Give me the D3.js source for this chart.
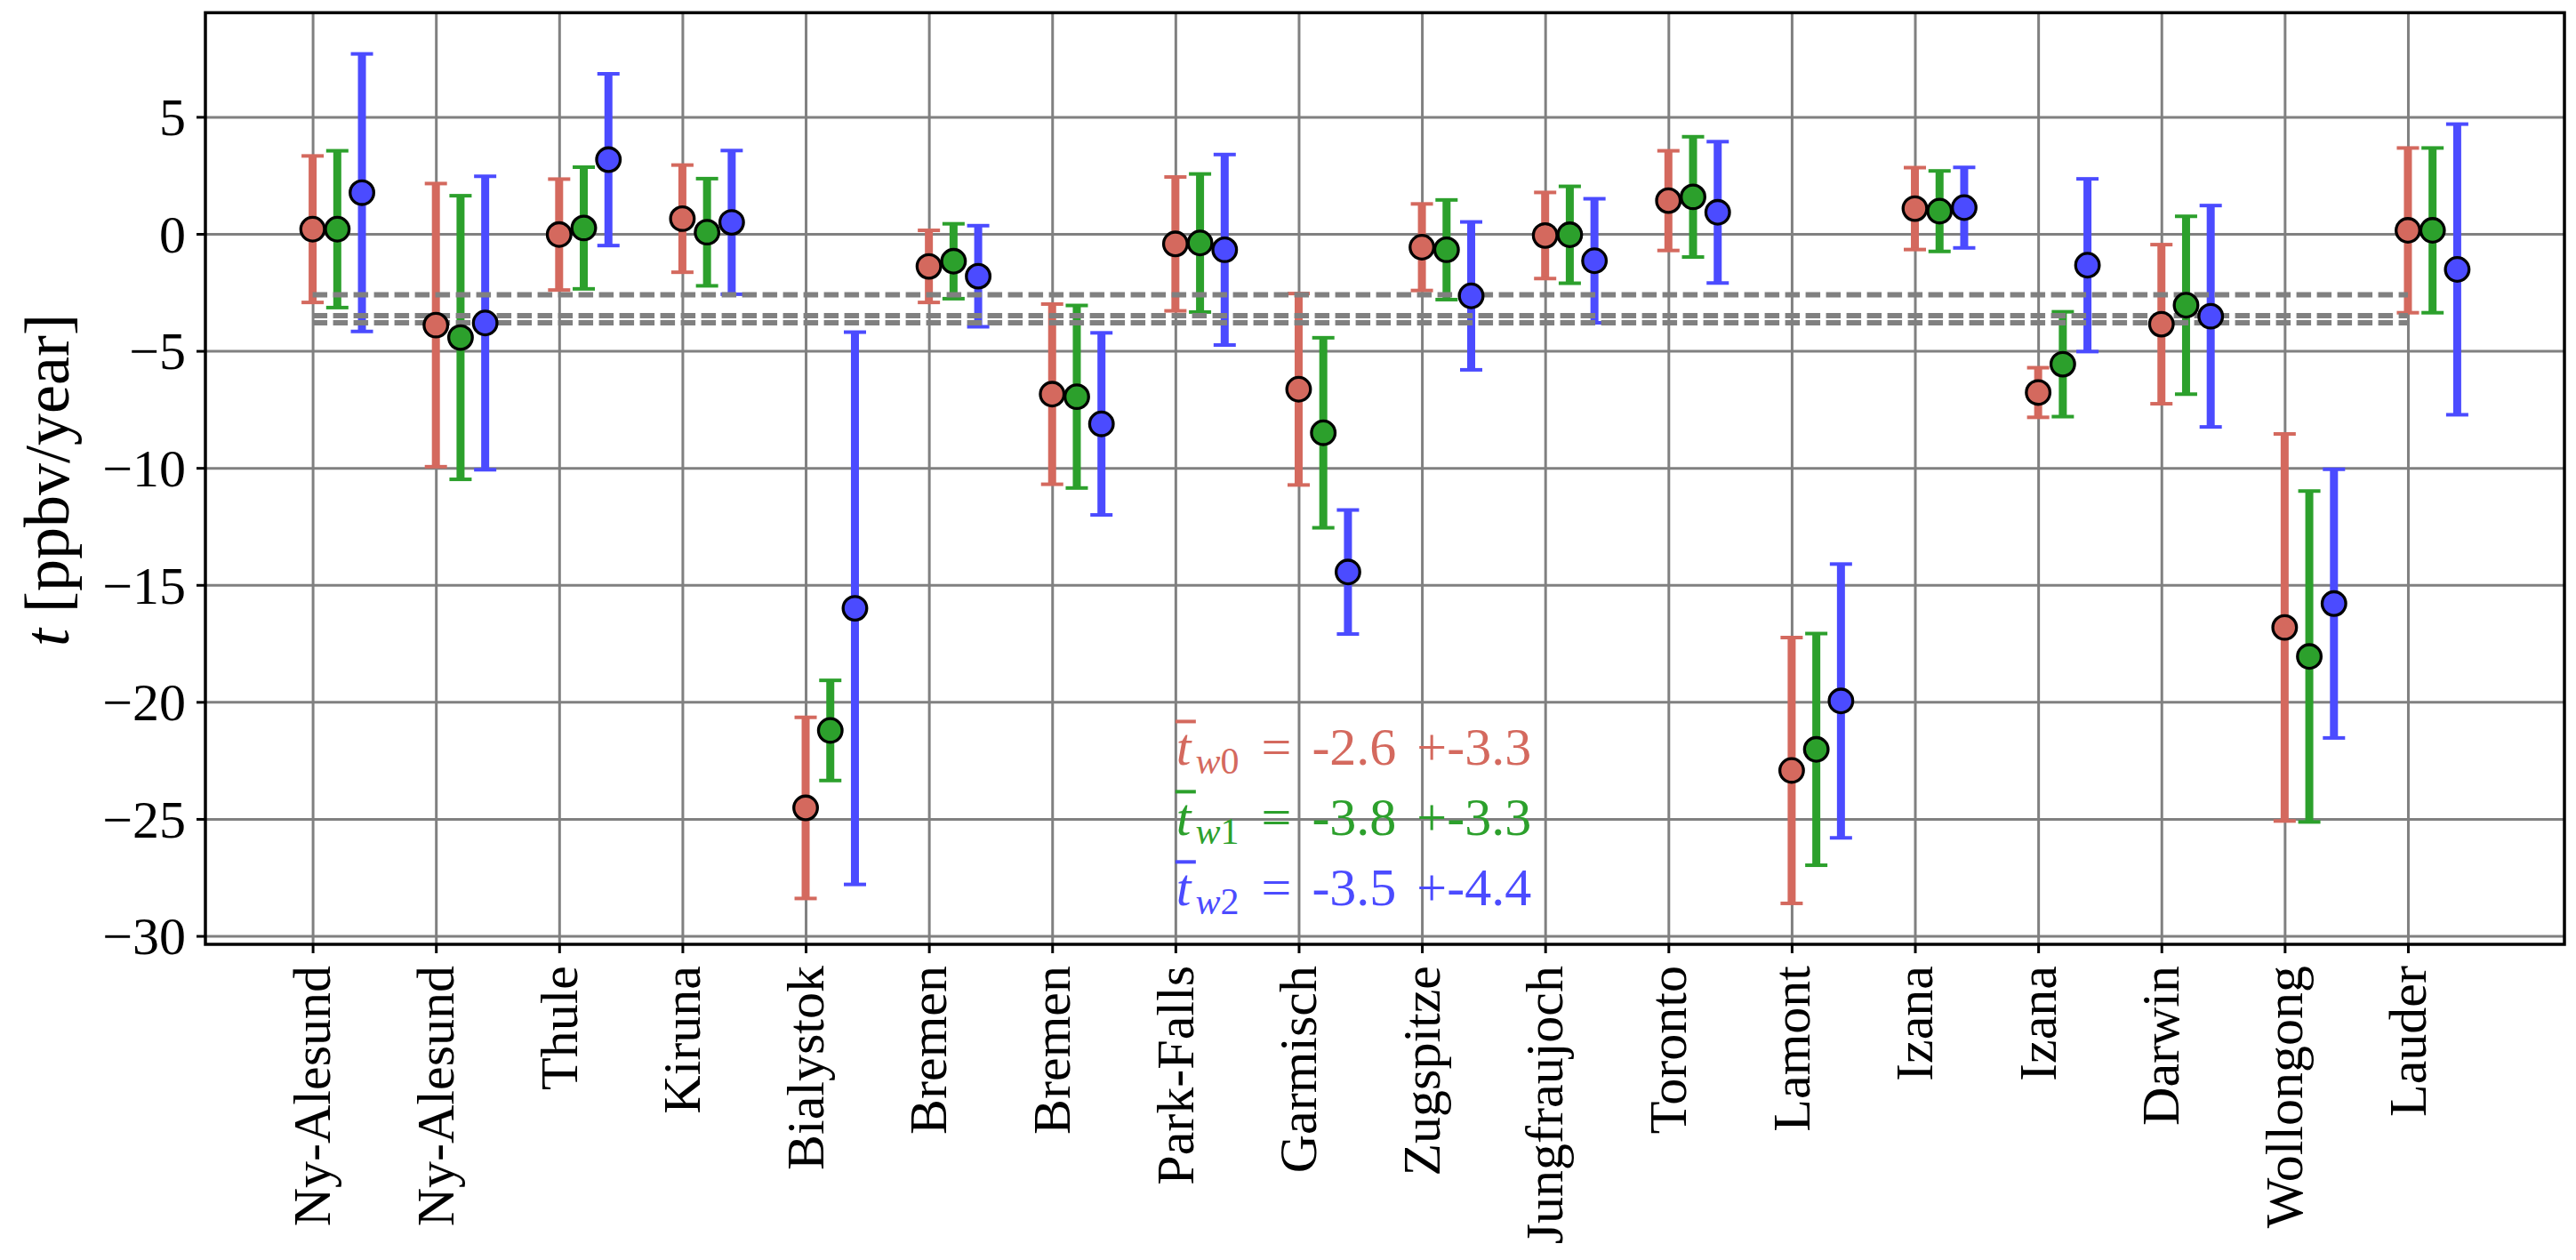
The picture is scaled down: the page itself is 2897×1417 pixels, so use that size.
<!DOCTYPE html>
<html><head><meta charset="utf-8">
<script src="https://cdn.jsdelivr.net/npm/d3@7"></script>
<style>
body{margin:0;background:#fff;}
svg{display:block;}
text{font-family:"Liberation Serif","DejaVu Serif",serif;}
</style>
</head><body>
<svg id="chart" width="2897" height="1417"></svg>
<script>
// ---------------- data ----------------
const stations = ["Ny-Alesund","Ny-Alesund","Thule","Kiruna","Bialystok","Bremen","Bremen","Park-Falls","Garmisch","Zugspitze","Jungfraujoch","Toronto","Lamont","Izana","Izana","Darwin","Wollongong","Lauder"];

const trendW0 = [0.2, -3.9, -0.03, 0.65, -24.53, -1.39, -6.85, -0.43, -6.64, -0.57, -0.07, 1.42, -22.93, 1.08, -6.78, -3.86, -16.82, 0.15];
const errW0   = [3.13, 6.05, 2.37, 2.29, 3.87, 1.54, 3.85, 2.86, 4.09, 1.85, 1.84, 2.13, 5.68, 1.75, 1.06, 3.40, 8.27, 3.52];

const trendW1 = [0.2, -4.43, 0.25, 0.07, -21.22, -1.17, -6.96, -0.39, -8.5, -0.68, -0.04, 1.58, -22.03, 0.97, -5.57, -3.05, -18.06, 0.15];
const errW1   = [3.35, 6.06, 2.60, 2.29, 2.14, 1.60, 3.90, 2.95, 4.06, 2.13, 2.07, 2.57, 4.95, 1.72, 2.24, 3.80, 7.07, 3.52];

const trendW2 = [1.76, -3.81, 3.17, 0.49, -16.0, -1.81, -8.12, -0.68, -14.45, -2.65, -1.15, 0.92, -19.96, 1.12, -1.34, -3.52, -15.8, -1.52];
const errW2   = [5.93, 6.27, 3.67, 3.07, 11.8, 2.16, 3.89, 4.07, 2.65, 3.16, 2.65, 3.02, 5.85, 1.72, 3.69, 4.73, 5.74, 6.21];

const meanTrends = [-2.6, -3.8, -3.5];
const meanErrors = [3.3, 3.3, 4.4];
const seriesSub = ["0", "1", "2"];
const yTicks = [-30, -25, -20, -15, -10, -5, 0, 5];

// ---------------- style / layout ----------------
const seriesColors = ["#d4695e", "#2ca02c", "#4b4bff"];
const seriesOffsets = [0, 0.2, 0.4];
const series = [
  {vals: trendW0, errs: errW0},
  {vals: trendW1, errs: errW1},
  {vals: trendW2, errs: errW2}
];

const pLeft = 231, pRight = 2884, pTop = 14.3, pBottom = 1062;
const svg = d3.select("#chart");
svg.append("rect").attr("width", 2897).attr("height", 1417).attr("fill", "#fff");

const x = d3.scaleLinear().domain([-0.87, 18.27]).range([pLeft, pRight]);
const y = d3.scaleLinear().domain([-30.36, 9.45]).range([pBottom, pTop]);
const idx = d3.range(stations.length);
const gridColor = "#808080";

// grid
svg.append("g").attr("transform", `translate(0,${pBottom})`)
  .call(d3.axisBottom(x).tickValues(idx).tickSize(-(pBottom - pTop)).tickFormat(""))
  .call(g => g.select(".domain").remove())
  .selectAll("line").attr("stroke", gridColor).attr("stroke-width", 3);
svg.append("g").attr("transform", `translate(${pLeft},0)`)
  .call(d3.axisLeft(y).tickValues(yTicks).tickSize(-(pRight - pLeft)).tickFormat(""))
  .call(g => g.select(".domain").remove())
  .selectAll("line").attr("stroke", gridColor).attr("stroke-width", 3);

// error bars
const capHalf = 12.5;
series.forEach((s, k) => {
  const g = svg.append("g").attr("stroke", seriesColors[k]);
  g.selectAll("line.bar").data(idx).join("line").attr("class", "bar")
    .attr("x1", i => x(i + seriesOffsets[k])).attr("x2", i => x(i + seriesOffsets[k]))
    .attr("y1", i => y(s.vals[i] - s.errs[i])).attr("y2", i => y(s.vals[i] + s.errs[i]))
    .attr("stroke-width", 9);
  [-1, 1].forEach(sign => {
    const cls = "cap" + (sign > 0 ? "u" : "d");
    g.selectAll("line." + cls).data(idx).join("line").attr("class", cls)
      .attr("x1", i => x(i + seriesOffsets[k]) - capHalf).attr("x2", i => x(i + seriesOffsets[k]) + capHalf)
      .attr("y1", i => y(s.vals[i] + sign * s.errs[i])).attr("y2", i => y(s.vals[i] + sign * s.errs[i]))
      .attr("stroke-width", 4);
  });
});

// weighted mean dashed lines
svg.append("g").selectAll("line").data(meanTrends).join("line")
  .attr("x1", x(0)).attr("x2", x(stations.length - 1))
  .attr("y1", d => y(d)).attr("y2", d => y(d))
  .attr("stroke", gridColor).attr("stroke-width", 6).attr("stroke-dasharray", "16.5 6.5");

// markers
series.forEach((s, k) => {
  svg.append("g").selectAll("circle").data(idx).join("circle")
    .attr("cx", i => x(i + seriesOffsets[k])).attr("cy", i => y(s.vals[i]))
    .attr("r", 13.3).attr("fill", seriesColors[k]).attr("stroke", "#000").attr("stroke-width", 3.3);
});

// frame
svg.append("rect").attr("x", pLeft).attr("y", pTop).attr("width", pRight - pLeft).attr("height", pBottom - pTop)
  .attr("fill", "none").attr("stroke", "#000").attr("stroke-width", 3.5);

// y axis
const fmt = d => d < 0 ? "\u2212" + Math.abs(d) : String(d);
const yAx = svg.append("g").attr("transform", `translate(${pLeft},0)`)
  .call(d3.axisLeft(y).tickValues(yTicks).tickSize(10).tickPadding(12).tickFormat(fmt));
yAx.select(".domain").remove();
yAx.selectAll("line").attr("stroke", "#000").attr("stroke-width", 3);
yAx.selectAll("text").attr("font-size", 60).attr("fill", "#000").attr("font-family", null).attr("dy", "0.34em");

// x axis
const xAx = svg.append("g").attr("transform", `translate(0,${pBottom})`)
  .call(d3.axisBottom(x).tickValues(idx).tickSize(10).tickFormat(i => stations[i]));
xAx.select(".domain").remove();
xAx.selectAll("line").attr("stroke", "#000").attr("stroke-width", 3);
xAx.selectAll("text").attr("font-size", 60).attr("fill", "#000").attr("font-family", null)
  .attr("transform", "rotate(-90)").attr("text-anchor", "end")
  .attr("x", -24).attr("y", 0).attr("dy", "0.32em");

// y label
const yl = svg.append("text").attr("transform", "translate(77,540) rotate(-90)")
  .attr("text-anchor", "middle").attr("font-size", 72).attr("fill", "#000");
yl.append("tspan").attr("font-style", "italic").text("t");
yl.append("tspan").text(" [ppbv/year]");

// annotations
meanTrends.forEach((m, i) => {
  const g = svg.append("g").attr("transform", `translate(${x(7)},${y(-22.7 - 3 * i)})`).attr("fill", seriesColors[i]);
  const t = g.append("text").attr("x", 1).attr("font-size", 60).attr("font-style", "italic").text("t");
  const tw = t.node().getComputedTextLength();
  g.append("line").attr("x1", 0).attr("x2", Math.max(23, tw + 5)).attr("y1", -49).attr("y2", -49)
    .attr("stroke", seriesColors[i]).attr("stroke-width", 4);
  const sub = g.append("text").attr("x", tw + 6).attr("y", 10).attr("font-size", 42);
  sub.append("tspan").attr("font-style", "italic").text("w");
  sub.append("tspan").text(seriesSub[i]);
  const sw = sub.node().getComputedTextLength();
  g.append("text").attr("x", tw + 6 + sw + 25).attr("font-size", 60).attr("word-spacing", 8)
    .text(`= ${m.toFixed(1)} +-${meanErrors[i].toFixed(1)}`);
});
</script>
</body></html>
